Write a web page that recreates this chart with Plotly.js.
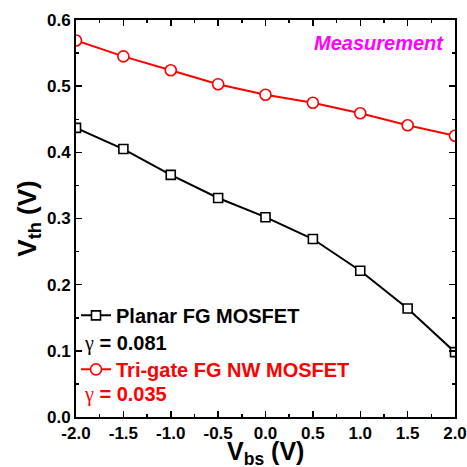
<!DOCTYPE html>
<html><head><meta charset="utf-8">
<script src="https://cdn.plot.ly/plotly-3.0.1.min.js"></script>
<style>html,body{margin:0;padding:0;background:#fff}</style>
</head><body>
<div id="chart" style="width:467px;height:467px"></div>
<script>
const vbs = [-2.0, -1.5, -1.0, -0.5, 0.0, 0.5, 1.0, 1.5, 2.0];
const planarVth = [0.437, 0.405, 0.366, 0.331, 0.302, 0.269, 0.221, 0.164, 0.098];
const trigateVth = [0.569, 0.545, 0.524, 0.503, 0.487, 0.475, 0.459, 0.441, 0.425];
const planarName = "Planar FG MOSFET";
const trigateName = "Tri-gate FG NW MOSFET";
const planarGamma = "0.081";
const trigateGamma = "0.035";
const xTitle = "V<sub>bs</sub> (V)";
const yTitle = "V<sub>th</sub> (V)";
const xTicks = ["-2.0","-1.5","-1.0","-0.5","0.0","0.5","1.0","1.5","2.0"];
const yTicks = ["0.0","0.1","0.2","0.3","0.4","0.5","0.6"];

const F = "Arial, 'Liberation Sans', sans-serif";
const g = "<span style='font-family:\"Liberation Serif\",\"Times New Roman\",serif;font-weight:normal'>γ</span>";
const legFont = {family: F, size: 20, color: '#000', weight: 'bold'};

const traces = [
  {x: vbs, y: planarVth, mode: 'lines+markers', name: planarName, legend: 'legend',
   line: {color: '#000', width: 2},
   marker: {symbol: 'square', size: 9, color: '#fff', line: {color: '#000', width: 1.6}}},
  {x: vbs, y: trigateVth, mode: 'lines+markers', name: trigateName, legend: 'legend2',
   line: {color: '#ff0000', width: 2},
   marker: {symbol: 'circle', size: 11, color: '#fff', line: {color: '#ff0000', width: 1.6}}}
];

const axisCommon = {
  showgrid: false, zeroline: false, showline: true, linecolor: '#000', linewidth: 2,
  mirror: 'allticks', ticks: 'inside', ticklen: 6, tickwidth: 1.5, tickcolor: '#000',
  tickfont: {family: F, size: 17, color: '#000', weight: 'bold'}
};

const layout = {
  width: 467, height: 467,
  margin: {l: 76, r: 12, t: 20, b: 50},
  paper_bgcolor: '#fff', plot_bgcolor: '#fff',
  font: {family: F},
  showlegend: true,
  legend: {x: 0.0, y: 0.256, xanchor: 'left', yanchor: 'middle', bgcolor: 'rgba(0,0,0,0)',
           itemwidth: 30, font: legFont},
  legend2: {x: 0.0, y: 0.12, xanchor: 'left', yanchor: 'middle', bgcolor: 'rgba(0,0,0,0)',
           itemwidth: 30, font: Object.assign({}, legFont, {color: '#ff0000'})},
  xaxis: Object.assign({}, axisCommon, {
    range: [-2, 2], tickmode: 'array', tickvals: xTicks.map(Number), ticktext: xTicks,
    minor: {dtick: 0.25, ticks: 'inside', ticklen: 3, tickwidth: 1.5, tickcolor: '#000'}
  }),
  yaxis: Object.assign({}, axisCommon, {
    range: [0, 0.6], tickmode: 'array', tickvals: yTicks.map(Number), ticktext: yTicks,
    minor: {dtick: 0.05, ticks: 'inside', ticklen: 3, tickwidth: 1.5, tickcolor: '#000'},
    title: {text: yTitle, font: {family: F, size: 26, color: '#000', weight: 'bold'}, standoff: 3}
  }),
  annotations: [
    {text: xTitle, xref: 'paper', yref: 'paper', x: 0.5, y: -0.046,
     xanchor: 'center', yanchor: 'top', showarrow: false,
     font: {family: F, size: 25, color: '#000', weight: 'bold'}},
    {text: "<i>Measurement</i>", xref: 'paper', yref: 'paper', x: 0.975, y: 0.975,
     xanchor: 'right', yanchor: 'top', showarrow: false,
     font: {family: F, size: 20, color: '#ff00ff', weight: 'bold'}},
    {text: g + " = " + planarGamma, xref: 'paper', yref: 'paper', x: 0.016, y: 0.185,
     xanchor: 'left', yanchor: 'middle', showarrow: false, font: legFont},
    {text: g + " = " + trigateGamma, xref: 'paper', yref: 'paper', x: 0.016, y: 0.057,
     xanchor: 'left', yanchor: 'middle', showarrow: false,
     font: Object.assign({}, legFont, {color: '#ff0000'})}
  ]
};

Plotly.newPlot('chart', traces, layout, {displayModeBar: false, staticPlot: true});
</script>
</body></html>
